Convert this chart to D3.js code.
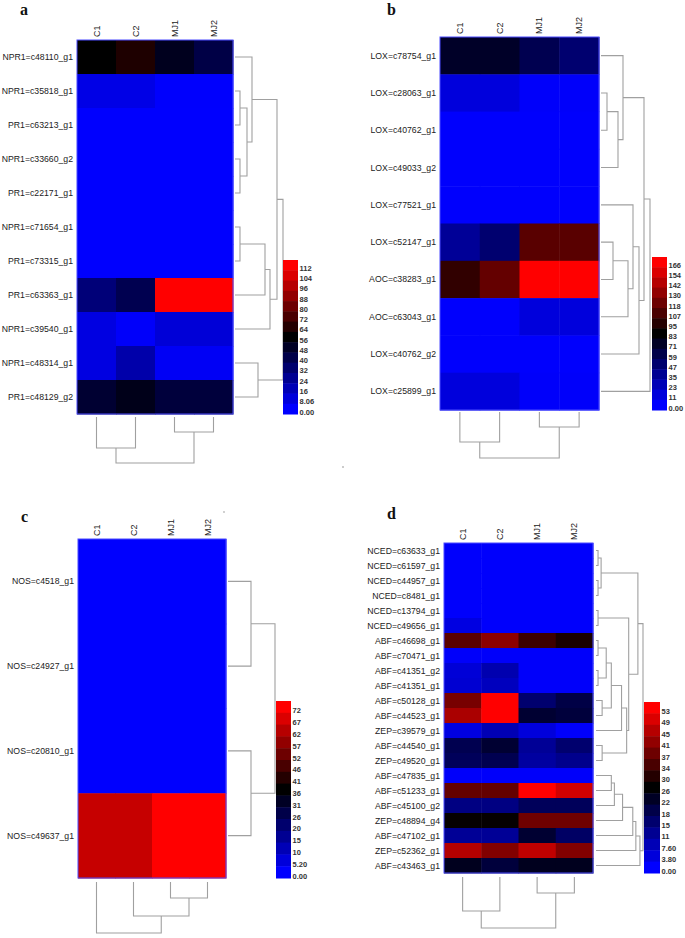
<!DOCTYPE html>
<html><head><meta charset="utf-8">
<script src="https://cdn.jsdelivr.net/npm/d3@7"></script>
<style>body{margin:0;background:#fff}svg{display:block}</style>
</head><body>
<svg id="chart" width="685" height="938"></svg>
<script>
// ---------- DATA ----------
const columns = ["C1", "C2", "MJ1", "MJ2"];

const rowsA = ["NPR1=c48110_g1","NPR1=c35818_g1","PR1=c63213_g1","NPR1=c33660_g2","PR1=c22171_g1","NPR1=c71654_g1","PR1=c73315_g1","PR1=c63363_g1","NPR1=c39540_g1","NPR1=c48314_g1","PR1=c48129_g2"];
const valuesA = [
  [56, 62.6, 49.4, 40.6],
  [5.5, 5.5, 0.5, 0.5],
  [0.3, 0.3, 0.3, 0.3],
  [0.3, 0.3, 0.3, 0.3],
  [0.3, 0.3, 0.3, 0.3],
  [0.3, 0.3, 0.3, 0.3],
  [0.3, 0.3, 0.3, 0.3],
  [29.6, 38.4, 115, 115],
  [6.6, 1, 8.8, 8.8],
  [6.6, 18.7, 2.2, 2.2],
  [45, 50.5, 42.8, 42.8]
];
const ticksA = ["112","104","96","88","80","72","64","56","48","40","32","24","16","8.06","0.00"];
const rowTreeA = [48, [42, [17, 0, [12, [5, 1, 2], [5, 3, 4]]], [35, [30, [5, 5, 6], 7], 8]], [23, 9, 10]];
const colTreeA = [46, [31, 0, 1], [15, 2, 3]];

const rowsB = ["LOX=c78754_g1","LOX=c28063_g1","LOX=c40762_g1","LOX=c49033_g2","LOX=c77521_g1","LOX=c52147_g1","AOC=c38283_g1","AOC=c63043_g1","LOX=c40762_g2","LOX=c25899_g1"];
const valuesB = [
  [70, 70, 57, 47],
  [11.4, 11.4, 1.6, 1.6],
  [0.5, 0.5, 0.5, 0.5],
  [0.5, 0.5, 0.5, 0.5],
  [0.5, 0.5, 0.5, 0.5],
  [34, 47, 112, 112],
  [99, 115.5, 170, 170],
  [0.5, 0.5, 11.4, 11.4],
  [0.5, 0.5, 0.5, 0.5],
  [11.4, 11.4, 1.6, 1.6]
];
const ticksB = ["166","154","142","130","118","107","95","83","71","59","47","35","23","11","0.00"];
const rowTreeB = [49, [43, [22, 0, [17, [6, 1, 2], 3]], [38, [32, 4, [27, [12, 5, 6], 7]], 8]], 9];
const colTreeB = [46, [30, 0, 1], [15, 2, 3]];

const rowsC = ["NOS=c4518_g1","NOS=c24927_g1","NOS=c20810_g1","NOS=c49637_g1"];
const valuesC = [
  [0.2, 0.2, 0.2, 0.2],
  [0.2, 0.2, 0.2, 0.2],
  [0.2, 0.2, 0.2, 0.2],
  [64, 64, 74, 74]
];
const ticksC = ["72","67","62","57","52","46","41","36","31","26","20","15","10","5.20","0.00"];
const rowTreeC = [47, [23, 0, 1], [23, 2, 3]];
const colTreeC = [51, 0, [34, 1, [16, 2, 3]]];

const rowsD = ["NCED=c63633_g1","NCED=c61597_g1","NCED=c44957_g1","NCED=c8481_g1","NCED=c13794_g1","NCED=c49656_g1","ABF=c46698_g1","ABF=c70471_g1","ABF=c41351_g2","ABF=c41351_g1","ABF=c50128_g1","ABF=c44523_g1","ZEP=c39579_g1","ABF=c44540_g1","ZEP=c49520_g1","ABF=c47835_g1","ABF=c51233_g1","ABF=c45100_g2","ZEP=c48894_g4","ABF=c47102_g1","ZEP=c52362_g1","ABF=c43463_g1"];
const valuesD = [
  [0.3, 0.3, 0.3, 0.3],
  [0.3, 0.3, 0.3, 0.3],
  [0.3, 0.3, 0.3, 0.3],
  [0.3, 0.3, 0.3, 0.3],
  [0.3, 0.3, 0.3, 0.3],
  [3.1, 0.3, 0.3, 0.3],
  [35.9, 41, 32.7, 29.1],
  [0.5, 0.5, 0.5, 0.5],
  [4.2, 8.3, 0.5, 0.5],
  [4.7, 6.8, 0.5, 0.5],
  [39, 55, 15.1, 19.2],
  [44.2, 55, 21.3, 20.3],
  [3.1, 7.8, 3.6, 0.5],
  [18.2, 21.3, 10.9, 15.1],
  [17.1, 18.2, 9.9, 11.9],
  [0.5, 0.5, 0.5, 0.5],
  [36.9, 36.9, 55, 48.3],
  [13, 13, 17.1, 17.1],
  [27, 27, 38, 38],
  [10.9, 10.9, 21.3, 16.1],
  [45.2, 40, 46.3, 40],
  [23.4, 20.3, 23.4, 23.4]
];
const ticksD = ["53","49","45","41","37","34","30","26","22","18","15","11","7.60","3.80","0.00"];
const rowTreeD = [46,
  [41, [5, [2, 0, 1], [2, 2, 3]],
       [32, [2, 4, 5],
            [30, [25, [15, [10, [2, 6, 7], [2, 8, 9]], [6, 10, 11]], 12], [6, 13, 14]]]],
  [43, [39, [36, [26, [18, [15, 15, 16], 17], 18], 19], 20], 21]];
const colTreeD = [51, [34, 0, 1], [16, 2, 3]];

// ---------- DRAWING ----------
const svg = d3.select("#chart");
const FONT = "'Liberation Sans', Arial, sans-serif";
const dendroColor = "#a0a0a0";

function panel(cfg) {
  const g = svg.append("g");
  const maxV = +cfg.ticks[0];
  const color = d3.scaleLinear().domain([0, maxV / 2, maxV]).range(["#0000ff", "#000000", "#ff0000"]).clamp(true);
  const x = d3.scaleBand().domain(d3.range(columns.length)).range([cfg.hx0, cfg.hx1]);
  const y = d3.scaleBand().domain(d3.range(cfg.rows.length)).range([cfg.hy0, cfg.hy1]);

  // cells
  cfg.values.forEach((row, i) => {
    g.selectAll(null).data(row).join("rect")
      .attr("x", (d, j) => x(j)).attr("y", y(i))
      .attr("width", x.bandwidth() + 0.5).attr("height", y.bandwidth() + 0.5)
      .attr("fill", d => color(d));
  });
  g.append("rect").attr("x", cfg.hx0).attr("y", cfg.hy0)
    .attr("width", cfg.hx1 - cfg.hx0).attr("height", cfg.hy1 - cfg.hy0)
    .attr("fill", "none").attr("stroke", "#4a4aff").attr("stroke-width", 1);

  // row labels
  g.selectAll(null).data(cfg.rows).join("text")
    .attr("x", cfg.hx0 - 4).attr("y", (d, i) => y(i) + y.bandwidth() / 2)
    .attr("text-anchor", "end").attr("dominant-baseline", "central")
    .attr("font-family", FONT).attr("font-size", 8.7).attr("fill", "#222")
    .text(d => d);

  // column labels (rotated)
  g.selectAll(null).data(columns).join("text")
    .attr("transform", (d, j) => `translate(${x(j) + x.bandwidth() / 2},${cfg.hy0 - 3}) rotate(-90)`)
    .attr("text-anchor", "start").attr("dominant-baseline", "central")
    .attr("font-family", FONT).attr("font-size", 9).attr("fill", "#222")
    .text(d => d);

  // panel letter
  g.append("text").attr("x", cfg.letter[0]).attr("y", cfg.letter[1])
    .attr("font-family", "'Liberation Serif', 'Times New Roman', serif").attr("font-weight", "bold")
    .attr("font-size", 16).attr("fill", "#111").text(cfg.name);

  // row dendrogram
  const rx = d3.scaleLinear().domain([0, cfg.rowTree[0]]).range([cfg.rowLeaf, cfg.rowRoot]);
  const pathR = d3.path();
  function walkR(node) {
    if (typeof node === "number") return { p: y(node) + y.bandwidth() / 2, h: 0 };
    const a = walkR(node[1]), b = walkR(node[2]);
    const hx = rx(node[0]);
    pathR.moveTo(rx(a.h), a.p); pathR.lineTo(hx, a.p); pathR.lineTo(hx, b.p); pathR.lineTo(rx(b.h), b.p);
    return { p: (a.p + b.p) / 2, h: node[0] };
  }
  walkR(cfg.rowTree);
  g.append("path").attr("d", pathR.toString()).attr("fill", "none")
    .attr("stroke", dendroColor).attr("stroke-width", 1.1);

  // column dendrogram
  const cy = d3.scaleLinear().domain([0, cfg.colTree[0]]).range([cfg.colLeaf, cfg.colRoot]);
  const pathC = d3.path();
  function walkC(node) {
    if (typeof node === "number") return { p: x(node) + x.bandwidth() / 2, h: 0 };
    const a = walkC(node[1]), b = walkC(node[2]);
    const hy = cy(node[0]);
    pathC.moveTo(a.p, cy(a.h)); pathC.lineTo(a.p, hy); pathC.lineTo(b.p, hy); pathC.lineTo(b.p, cy(b.h));
    return { p: (a.p + b.p) / 2, h: node[0] };
  }
  walkC(cfg.colTree);
  g.append("path").attr("d", pathC.toString()).attr("fill", "none")
    .attr("stroke", dendroColor).attr("stroke-width", 1.1);

  // legend
  const n = cfg.ticks.length;
  const ly = d3.scaleBand().domain(d3.range(n)).range([cfg.ly0, cfg.ly1]);
  g.selectAll(null).data(cfg.ticks).join("rect")
    .attr("x", cfg.lx0).attr("y", (d, i) => ly(i))
    .attr("width", cfg.lx1 - cfg.lx0).attr("height", ly.bandwidth() + 0.5)
    .attr("fill", (d, i) => color(maxV * (n - 1 - i) / (n - 1)));
  g.selectAll(null).data(cfg.ticks).join("text")
    .attr("x", cfg.lx1 + 1.5).attr("y", (d, i) => ly(i) + ly.bandwidth() - 2)
    .attr("dominant-baseline", "central")
    .attr("font-family", FONT).attr("font-size", 7.5).attr("font-weight", "bold").attr("fill", "#333")
    .text(d => d);
}

panel({ name: "a", rows: rowsA, values: valuesA, ticks: ticksA, rowTree: rowTreeA, colTree: colTreeA,
  hx0: 77, hx1: 233, hy0: 40, hy1: 414, letter: [20, 15],
  rowLeaf: 235, rowRoot: 283, colLeaf: 417, colRoot: 463,
  lx0: 283, lx1: 298, ly0: 260, ly1: 414 });

panel({ name: "b", rows: rowsB, values: valuesB, ticks: ticksB, rowTree: rowTreeB, colTree: colTreeB,
  hx0: 440, hx1: 599, hy0: 37, hy1: 410, letter: [387, 15],
  rowLeaf: 601, rowRoot: 650, colLeaf: 412, colRoot: 458,
  lx0: 652, lx1: 667, ly0: 257, ly1: 410 });

panel({ name: "c", rows: rowsC, values: valuesC, ticks: ticksC, rowTree: rowTreeC, colTree: colTreeC,
  hx0: 78, hx1: 226, hy0: 539, hy1: 878, letter: [21, 522],
  rowLeaf: 228, rowRoot: 275, colLeaf: 882, colRoot: 933,
  lx0: 276, lx1: 291, ly0: 701, ly1: 878 });

panel({ name: "d", rows: rowsD, values: valuesD, ticks: ticksD, rowTree: rowTreeD, colTree: colTreeD,
  hx0: 444, hx1: 593, hy0: 543, hy1: 873, letter: [387, 519],
  rowLeaf: 596, rowRoot: 643, colLeaf: 877, colRoot: 928,
  lx0: 644, lx1: 660, ly0: 702, ly1: 873 });

// stray specks in the original
svg.append("circle").attr("cx", 343).attr("cy", 467).attr("r", 1).attr("fill", "#bbb");
svg.append("circle").attr("cx", 224).attr("cy", 512).attr("r", 0.9).attr("fill", "#bbb");
</script>
</body></html>
